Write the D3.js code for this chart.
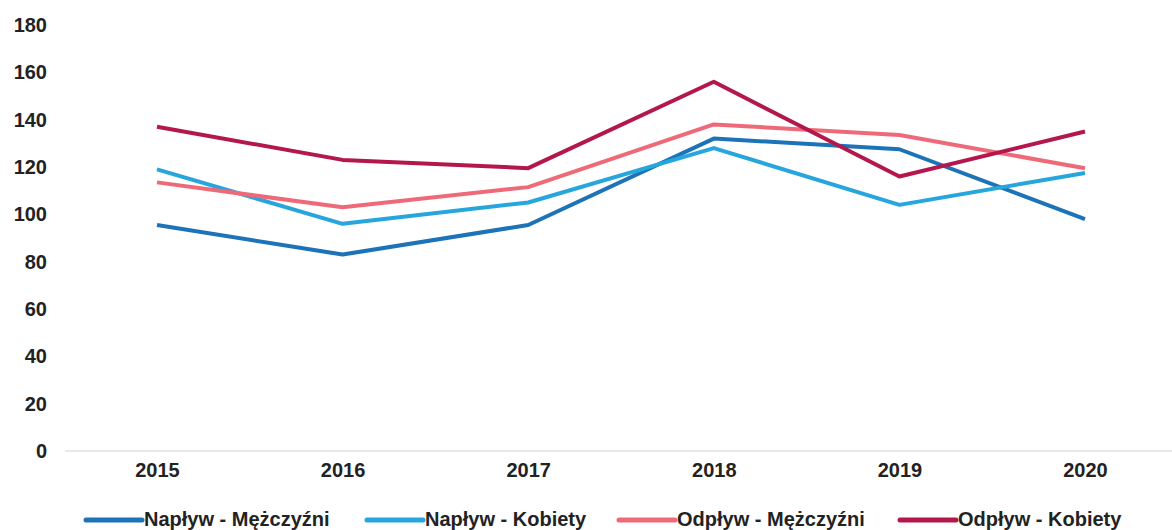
<!DOCTYPE html>
<html>
<head>
<meta charset="utf-8">
<script src="https://cdn.jsdelivr.net/npm/d3@7"></script>
<style>
  body { margin: 0; background: #fff; }
  text { font-family: "Liberation Sans", Arial, sans-serif; font-weight: bold; fill: #222; }
</style>
</head>
<body>
<div id="chart"></div>
<script>
const FRAME_WIDTH = 1172;
const FRAME_HEIGHT = 530;
const MARGINS = {left: 65, right: 0, top: 25, bottom: 79};

// data
const years = ["2015", "2016", "2017", "2018", "2019", "2020"];
const naplyw_m = [95.5, 83, 95.5, 132, 127.5, 98];
const naplyw_k = [119, 96, 105, 128, 104, 117.5];
const odplyw_m = [113.5, 103, 111.5, 138, 133.5, 119.5];
const odplyw_k = [137, 123, 119.5, 156, 116, 135];
const y_ticks = [0, 20, 40, 60, 80, 100, 120, 140, 160, 180];

const series = [
  {name: "Napływ - Mężczyźni", values: naplyw_m, color: "#1c73b8"},
  {name: "Napływ - Kobiety", values: naplyw_k, color: "#27a6de"},
  {name: "Odpływ - Mężczyźni", values: odplyw_m, color: "#ef6a78"},
  {name: "Odpływ - Kobiety", values: odplyw_k, color: "#b3174b"}
];

const SVG = d3.select("#chart")
  .append("svg")
    .attr("width", FRAME_WIDTH)
    .attr("height", FRAME_HEIGHT);

// x scale: points for years
const x = d3.scalePoint()
  .domain(years)
  .range([157, 1085]);

// y scale
const y = d3.scaleLinear()
  .domain([0, 180])
  .range([FRAME_HEIGHT - MARGINS.bottom, MARGINS.top]);

// y axis labels (no line)
const yAxis = SVG.append("g")
  .attr("transform", "translate(47,0)")
  .call(d3.axisLeft(y).tickValues(y_ticks).tickSize(0).tickPadding(0));
yAxis.select(".domain").remove();
yAxis.selectAll("text")
  .style("font-size", "20px")
  .style("font-family", "'Liberation Sans', Arial, sans-serif")
  .style("font-weight", "bold")
  .attr("fill", "#222");

// faint baseline
SVG.append("line")
  .attr("x1", MARGINS.left)
  .attr("x2", FRAME_WIDTH)
  .attr("y1", y(0))
  .attr("y2", y(0))
  .attr("stroke", "#d4d4d4")
  .attr("stroke-width", 1);

// x axis labels
const xAxis = SVG.append("g")
  .attr("transform", "translate(0," + (y(0) + 11) + ")")
  .call(d3.axisBottom(x).tickSize(0).tickPadding(0));
xAxis.select(".domain").remove();
xAxis.selectAll("text")
  .attr("dy", "0.75em")
  .style("font-size", "20px")
  .style("font-family", "'Liberation Sans', Arial, sans-serif")
  .style("font-weight", "bold")
  .attr("fill", "#222");

// lines
const line = d3.line()
  .x((d, i) => x(years[i]))
  .y((d) => y(d));

SVG.append("g")
  .selectAll("path")
  .data(series)
  .enter()
  .append("path")
    .attr("d", (d) => line(d.values))
    .attr("fill", "none")
    .attr("stroke", (d) => d.color)
    .attr("stroke-width", 4)
    .attr("stroke-linejoin", "round");

// legend
const legend_x = [86, 367, 619, 900];
const legend = SVG.append("g")
  .selectAll("g")
  .data(series)
  .enter()
  .append("g")
    .attr("transform", (d, i) => "translate(" + legend_x[i] + ",520)");

legend.append("line")
  .attr("x1", 0)
  .attr("x2", 56)
  .attr("y1", 0)
  .attr("y2", 0)
  .attr("stroke", (d) => d.color)
  .attr("stroke-width", 5)
  .attr("stroke-linecap", "round");

legend.append("text")
  .attr("x", 58)
  .attr("y", 6)
  .style("font-size", "20px")
  .text((d) => d.name);
</script>
</body>
</html>
